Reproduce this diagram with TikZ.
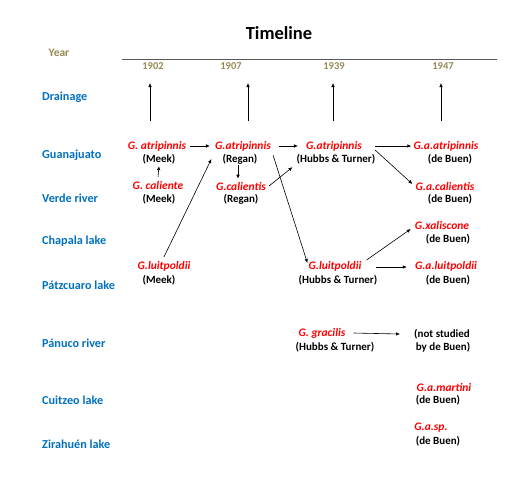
\documentclass[tikz,border=0pt]{standalone}
\usepackage{fontspec}
\setmainfont{Carlito}
\usetikzlibrary{arrows.meta}
\definecolor{rowblue}{RGB}{0,112,192}
\definecolor{yrcol}{RGB}{148,138,84}
\definecolor{spred}{RGB}{255,0,0}
\tikzset{
  sp/.style={text=spred,font=\bfseries\itshape\fontsize{11.5}{13}\selectfont,inner sep=0pt},
  au/.style={text=black,font=\bfseries\fontsize{11}{13}\selectfont,inner sep=0pt},
  rowlab/.style={text=rowblue,font=\bfseries\fontsize{12.2}{14}\selectfont,inner sep=0pt,anchor=west},
  yrlab/.style={text=yrcol,font=\bfseries\fontsize{10.5}{12}\selectfont,inner sep=0pt},
  arr/.style={-{Latex[length=4pt,width=3.5pt]},line width=0.6pt,black},
}
\begin{document}
\begin{tikzpicture}[x=1pt,y=-1pt]
\useasboundingbox (0,0) rectangle (529,496);
% title and axis
\node[font=\bfseries\fontsize{18.5}{21}\selectfont,inner sep=0pt] (title) at (279,33) {Timeline};
\node[yrlab,font=\bfseries\fontsize{11.5}{13}\selectfont] (year) at (59,53) {Year};
\coordinate (axL) at (122,59);
\coordinate (axR) at (497,59);
\draw[line width=0.8pt,black!65] (axL) -- (axR);
\node[yrlab] (y1) at (153,66) {1902};
\node[yrlab] (y2) at (231,66) {1907};
\node[yrlab] (y3) at (334,66) {1939};
\node[yrlab] (y4) at (443,66) {1947};
% vertical arrows
\coordinate (d1b) at (150,121); \coordinate (d1t) at (150,83);
\coordinate (d2b) at (248,121); \coordinate (d2t) at (248,83);
\coordinate (d3b) at (333,121); \coordinate (d3t) at (333,83);
\coordinate (d4b) at (441,121); \coordinate (d4t) at (441,83);
\draw[arr] (d1b) -- (d1t);
\draw[arr] (d2b) -- (d2t);
\draw[arr] (d3b) -- (d3t);
\draw[arr] (d4b) -- (d4t);
% row labels
\node[rowlab] (lDr) at (42,97) {Drainage};
\node[rowlab] (lGu) at (42,155) {Guanajuato};
\node[rowlab] (lVe) at (42,198) {Verde river};
\node[rowlab] (lCh) at (42,241) {Chapala lake};
\node[rowlab] (lPa) at (42,285) {Pátzcuaro lake};
\node[rowlab] (lPn) at (42,343) {Pánuco river};
\node[rowlab] (lCu) at (42,400) {Cuitzeo lake};
\node[rowlab] (lZi) at (42,444) {Zirahuén lake};
% 1902 Meek
\node[sp] (r1) at (157,146) {G. atripinnis};
\node[au] (a1) at (159,159) {(Meek)};
\node[sp] (rc1) at (158,186) {G. caliente};
\node[au] (ac1) at (159,199) {(Meek)};
\node[sp] (rL1) at (164,266) {G.luitpoldii};
\node[au] (aL1) at (159,280) {(Meek)};
% 1907 Regan
\node[sp] (r2) at (243,146) {G.atripinnis};
\node[au] (a2) at (240,159) {(Regan)};
\node[sp] (rc2) at (241,186) {G.calientis};
\node[au] (ac2) at (241,199) {(Regan)};
% 1939 Hubbs & Turner
\node[sp] (r3) at (334,146) {G.atripinnis};
\node[au] (a3) at (336,159) {(Hubbs \& Turner)};
\node[sp] (rL3) at (335,266) {G.luitpoldii};
\node[au] (aL3) at (338,280) {(Hubbs \& Turner)};
\node[sp] (rg) at (322,333) {G. gracilis};
\node[au] (ag) at (335,347) {(Hubbs \& Turner)};
% 1947 de Buen
\node[sp] (r4) at (446,146) {G.a.atripinnis};
\node[au] (a4) at (450,159) {(de Buen)};
\node[sp] (rc4) at (445,186) {G.a.calientis};
\node[au] (ac4) at (450,199) {(de Buen)};
\node[sp] (rx) at (442,226) {G.xaliscone};
\node[au] (ax) at (448,239) {(de Buen)};
\node[sp] (rL4) at (446,266) {G.a.luitpoldii};
\node[au] (aL4) at (448,280) {(de Buen)};
\node[au] (ns1) at (442,334) {(not studied};
\node[au] (ns2) at (443,347) {by de Buen)};
\node[sp] (rm) at (444,387) {G.a.martini};
\node[au] (am) at (438,400) {(de Buen)};
\node[sp] (rs) at (431,428) {G.a.sp.};
\node[au] (as) at (438,441) {(de Buen)};
% connectors
\draw[arr] ([xshift=4pt]r1.east) -- ([xshift=-5pt]r2.west);
\draw[arr] ([yshift=5pt]rc1.north) -- ([yshift=-2pt]a1.south);
\draw[arr] ([yshift=4pt]rL1.north) -- ([xshift=-11pt]a2.west);
\draw[arr] ([xshift=-2pt,yshift=-1pt]a2.south) -- ([xshift=-3pt,yshift=3pt]rc2.north);
\draw[arr] ([xshift=8pt]r2.east) -- ([xshift=-8pt]r3.west);
\draw[arr] ([xshift=3pt]rc2.east) -- ([xshift=-4pt,yshift=-3pt]a3.south west);
\draw[arr] ([xshift=2pt,yshift=-4pt]r2.south east) -- ([xshift=-1pt,yshift=3pt]rL3.west);
\draw[arr] ([xshift=13pt]r3.east) -- ([xshift=-2pt]r4.west);
\draw[arr] ([xshift=13pt,yshift=-4pt]r3.east) -- ([xshift=-3pt,yshift=2pt]rc4.west);
\draw[arr] ([xshift=5pt,yshift=6pt]rL3.east) -- ([xshift=-4pt,yshift=-3pt]rx.west);
\draw[arr] ([xshift=14pt,yshift=-1pt]rL3.east) -- ([xshift=-8pt,yshift=-1pt]rL4.west);
\draw[arr] ([xshift=8pt]rg.east) -- ([xshift=-14pt]ns1.west);
\end{tikzpicture}
\end{document}
